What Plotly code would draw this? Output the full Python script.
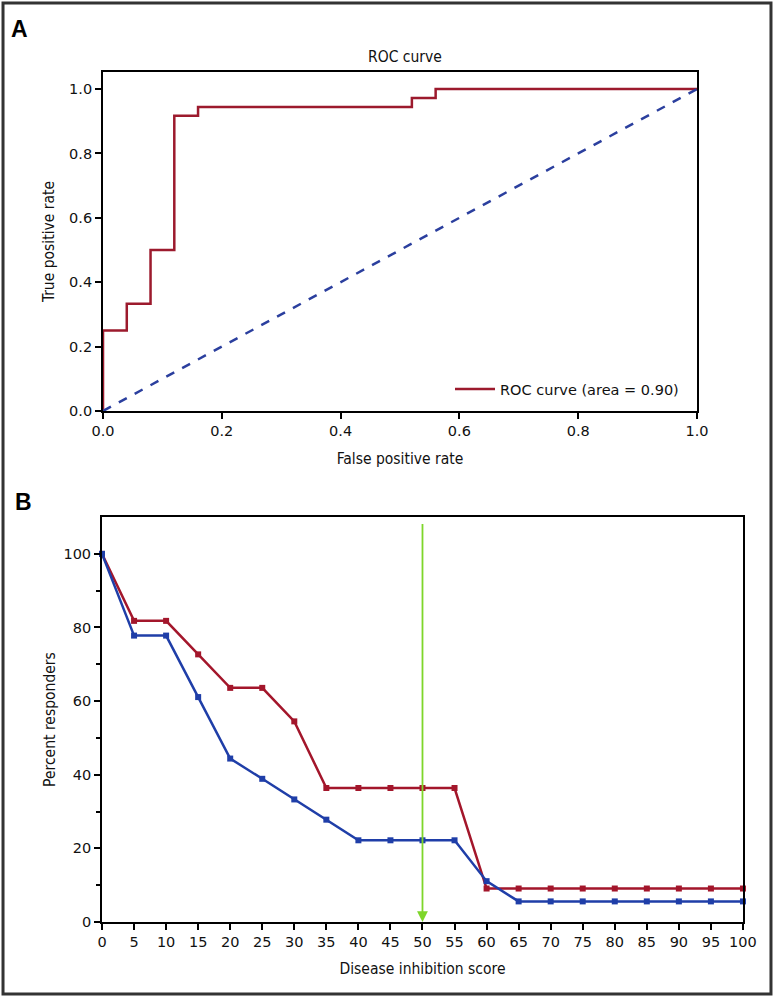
import plotly.graph_objects as go

# ---- Panel A data: ROC curve ----
fpr = [0.0, 0.0, 0.04, 0.04, 0.08, 0.08, 0.12, 0.12, 0.16, 0.16, 0.52, 0.52, 0.56, 0.56, 1.0]
tpr = [0.0, 0.25, 0.25, 0.333, 0.333, 0.5, 0.5, 0.917, 0.917, 0.944, 0.944, 0.972, 0.972, 1.0, 1.0]
chance_x = [0.0, 1.0]
chance_y = [0.0, 1.0]
roc_label = "ROC curve (area = 0.90)"
roc_ticks = [0.0, 0.2, 0.4, 0.6, 0.8, 1.0]

# ---- Panel B data: percent responders ----
score = [0, 5, 10, 15, 20, 25, 30, 35, 40, 45, 50, 55, 60, 65, 70, 75, 80, 85, 90, 95, 100]
red_pct = [100, 81.8, 81.8, 72.7, 63.6, 63.6, 54.5, 36.4, 36.4, 36.4, 36.4, 36.4,
           9.1, 9.1, 9.1, 9.1, 9.1, 9.1, 9.1, 9.1, 9.1]
blue_pct = [100, 77.8, 77.8, 61.1, 44.4, 38.9, 33.3, 27.8, 22.2, 22.2, 22.2, 22.2,
            11.1, 5.6, 5.6, 5.6, 5.6, 5.6, 5.6, 5.6, 5.6]
pct_major = [0, 20, 40, 60, 80, 100]
pct_minor = [10, 30, 50, 70, 90]
threshold = 50
threshold_top = 108.5

RED_A = "#9c1a2d"
BLUE_A = "#2b3f9e"
RED_B = "#a3162b"
BLUE_B = "#1f3ea8"
GREEN = "#7ed62a"

NARROW = "DejaVu Sans Condensed, Liberation Sans Narrow, sans-serif"
TICK_FONT = dict(family="DejaVu Sans, Liberation Sans, sans-serif", size=14.5, color="#111")
TITLE_FONT = dict(family=NARROW, size=15.5, color="#111")

fig = go.Figure()

fig.add_trace(go.Scatter(x=fpr, y=tpr, mode="lines", name=roc_label,
                         line=dict(color=RED_A, width=2.5), xaxis="x", yaxis="y",
                         showlegend=True, cliponaxis=False))
fig.add_trace(go.Scatter(x=chance_x, y=chance_y, mode="lines", name="chance",
                         line=dict(color=BLUE_A, width=2.5, dash="dash"),
                         xaxis="x", yaxis="y", showlegend=False, cliponaxis=False))

fig.add_trace(go.Scatter(x=score, y=red_pct, mode="lines+markers", name="red",
                         line=dict(color=RED_B, width=2.5),
                         marker=dict(symbol="square", size=6, color=RED_B),
                         xaxis="x2", yaxis="y2", showlegend=False, cliponaxis=False))
fig.add_trace(go.Scatter(x=score, y=blue_pct, mode="lines+markers", name="blue",
                         line=dict(color=BLUE_B, width=2.5),
                         marker=dict(symbol="square", size=6, color=BLUE_B),
                         xaxis="x2", yaxis="y2", showlegend=False, cliponaxis=False))

axis_common = dict(showline=True, linecolor="black", linewidth=2, mirror=True,
                   ticks="outside", ticklen=6, tickwidth=1.5, tickcolor="black",
                   showgrid=False, zeroline=False, tickfont=TICK_FONT, automargin=False)

fig.update_layout(
    width=774, height=997,
    margin=dict(l=0, r=0, t=0, b=0),
    paper_bgcolor="white", plot_bgcolor="white",
    xaxis=dict(domain=[0.1331, 0.9005], range=[0, 1], tickvals=roc_ticks,
               tickformat=".1f", anchor="y",
               title=dict(text="False positive rate", font=TITLE_FONT, standoff=15),
               **axis_common),
    yaxis=dict(domain=[0.5878, 0.9278], range=[0, 1.053], tickvals=roc_ticks,
               tickformat=".1f", anchor="x",
               title=dict(text="True positive rate", font=TITLE_FONT, standoff=11),
               **axis_common),
    xaxis2=dict(domain=[0.1318, 0.9599], range=[0, 100], tickvals=score, anchor="y2",
                title=dict(text="Disease inhibition score", font=TITLE_FONT, standoff=14),
                **axis_common),
    yaxis2=dict(domain=[0.0752, 0.4814], range=[0, 110], tickvals=pct_major,
                anchor="x2",
                minor=dict(tickvals=pct_minor, ticks="outside", ticklen=4,
                           tickwidth=1.5, tickcolor="black"),
                title=dict(text="Percent responders", font=TITLE_FONT, standoff=4),
                **axis_common),
    legend=dict(x=0.5814, y=0.6098, xanchor="left", yanchor="middle", itemwidth=40,
                bgcolor="rgba(0,0,0,0)",
                font=dict(family="DejaVu Sans, Liberation Sans, sans-serif", size=14.5, color="#111")),
    showlegend=True,
)

fig.add_annotation(text="ROC curve", xref="paper", yref="paper", x=0.5233, y=0.9428,
                   showarrow=False, xanchor="center", yanchor="middle",
                   font=dict(family=NARROW, size=15.5, color="#111"))
fig.add_annotation(text="<b>A</b>", xref="paper", yref="paper", x=0.0110, y=0.9709,
                   showarrow=False, xanchor="left", yanchor="middle",
                   font=dict(family="Liberation Sans, Arial, sans-serif", size=23, color="black"))
fig.add_annotation(text="<b>B</b>", xref="paper", yref="paper", x=0.0170, y=0.4965,
                   showarrow=False, xanchor="left", yanchor="middle",
                   font=dict(family="Liberation Sans, Arial, sans-serif", size=23, color="black"))

# green threshold arrow
fig.add_annotation(x=threshold, y=0, ax=threshold, ay=threshold_top, xref="x2", yref="y2",
                   axref="x2", ayref="y2", showarrow=True, arrowhead=2, arrowsize=1.2,
                   arrowwidth=1.8, arrowcolor=GREEN, text="")

# outer frame
fig.add_shape(type="rect", xref="paper", yref="paper", x0=0.0039, y0=0.003, x1=0.9961, y1=0.997,
              line=dict(color="#333", width=3))

fig.write_html("out.html", config={"displayModeBar": False},
               post_script="document.body.style.margin='0px';")
